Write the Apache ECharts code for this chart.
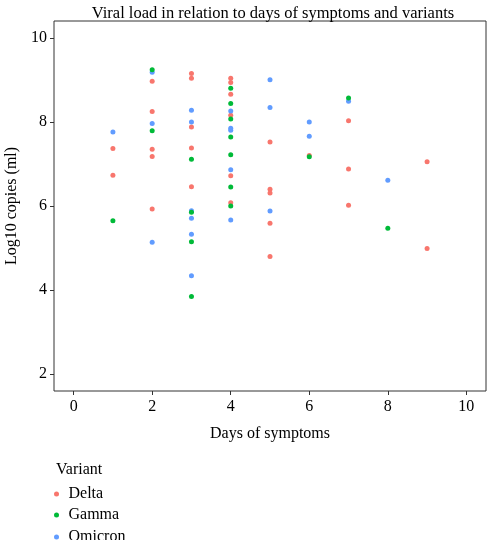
<!DOCTYPE html>
<html>
<head>
<meta charset="utf-8">
<script src="https://cdn.jsdelivr.net/npm/echarts@6/dist/echarts.min.js"></script>
<style>html,body{margin:0;padding:0;background:#fff;}#c{width:487px;height:540px;}</style>
</head>
<body>
<div id="c"></div>
<script>
const chartTitle = 'Viral load in relation to days of symptoms and variants';
const xName = 'Days of symptoms';
const yName = 'Log10 copies (ml)';
const legendTitle = 'Variant';
const variants = ['Delta', 'Gamma', 'Omicron'];
const xTicks = [0, 2, 4, 6, 8, 10];
const yTicks = [2, 4, 6, 8, 10];

const deltaPoints = [
  [1,7.37],[1,6.73],
  [2,8.97],[2,8.25],[2,7.35],[2,7.18],[2,5.93],
  [3,9.15],[3,9.04],[3,7.88],[3,7.38],[3,6.46],
  [4,9.04],[4,8.94],[4,8.66],[4,8.16],[4,6.72],[4,6.08],
  [5,7.52],[5,6.40],[5,6.31],[5,5.59],[5,4.80],
  [6,7.20],
  [7,8.03],[7,6.88],[7,6.02],
  [9,7.05],[9,4.99]
];
const gammaPoints = [
  [1,5.65],[2,9.24],[2,7.79],
  [3,7.11],[3,5.85],[3,5.15],[3,3.85],
  [4,8.80],[4,8.44],[4,8.07],[4,7.64],[4,7.22],[4,6.45],[4,6.00],
  [6,7.17],[7,8.57],[8,5.47]
];
const omicronPoints = [
  [1,7.76],[2,9.18],[2,7.96],[2,5.14],
  [3,8.28],[3,8.00],[3,5.89],[3,5.71],[3,5.33],[3,4.34],
  [4,8.26],[4,7.85],[4,7.80],[4,6.86],[4,5.67],
  [5,9.00],[5,8.34],[5,5.88],
  [6,8.00],[6,7.66],[7,8.49],[8,6.61]
];
const colors = {Delta:'#F8766D', Gamma:'#00BA38', Omicron:'#619CFF'};
const pointsBy = {Delta: deltaPoints, Gamma: gammaPoints, Omicron: omicronPoints};
const zBy = {Delta: 2, Omicron: 3, Gamma: 4};

const font = 'Liberation Serif';
const fs = 16;
const legendTops = [486, 507, 529];

const chart = echarts.init(document.getElementById('c'), null, {renderer:'canvas'});
chart.setOption({
  animation: false,
  textStyle: {fontFamily: font, color: '#000'},
  title: [
    {text: chartTitle, left: 268, top: 0, textAlign: 'center',
     textStyle: {fontFamily: font, fontSize: 16.5, fontWeight: 'normal', color: '#000'}},
    {text: legendTitle, left: 51, top: 457,
     textStyle: {fontFamily: font, fontSize: fs, fontWeight: 'normal', color: '#000'}}
  ],
  grid: {left: 54, right: 1, top: 21, bottom: 149, show: true, borderColor: '#333', borderWidth: 1,
         containLabel: false, outerBoundsMode: 'none'},
  xAxis: {
    type: 'value', min: -0.5, max: 10.5, interval: 2,
    name: xName, nameLocation: 'middle', nameGap: 35,
    nameTextStyle: {fontFamily: font, fontSize: fs, color: '#000'},
    axisLine: {show: false, onZero: false},
    axisTick: {show: true, inside: false, length: 4, lineStyle: {color: '#333'}, customValues: xTicks},
    axisLabel: {fontFamily: font, fontSize: fs, color: '#000', margin: 8, customValues: xTicks},
    splitLine: {show: false}
  },
  yAxis: {
    type: 'value', min: 1.6, max: 10.4, interval: 2,
    name: yName, nameLocation: 'middle', nameGap: 34,
    nameTextStyle: {fontFamily: font, fontSize: fs, color: '#000'},
    axisLine: {show: false, onZero: false},
    axisTick: {show: true, inside: false, length: 4, lineStyle: {color: '#333'}, customValues: yTicks},
    axisLabel: {fontFamily: font, fontSize: fs, color: '#000', margin: 7, customValues: yTicks},
    splitLine: {show: false}
  },
  legend: variants.map((v, i) => ({
    data: [{name: v, icon: 'circle'}],
    orient: 'vertical', left: 54, top: legendTops[i], padding: 0,
    itemWidth: 14, itemHeight: 5,
    textStyle: {fontFamily: font, fontSize: fs, color: '#000'}
  })),
  series: ['Delta', 'Omicron', 'Gamma'].map(v => ({
    name: v, type: 'scatter', data: pointsBy[v], z: zBy[v],
    symbol: 'circle', symbolSize: 5,
    itemStyle: {color: colors[v], opacity: 1}
  }))
});
</script>
</body>
</html>
